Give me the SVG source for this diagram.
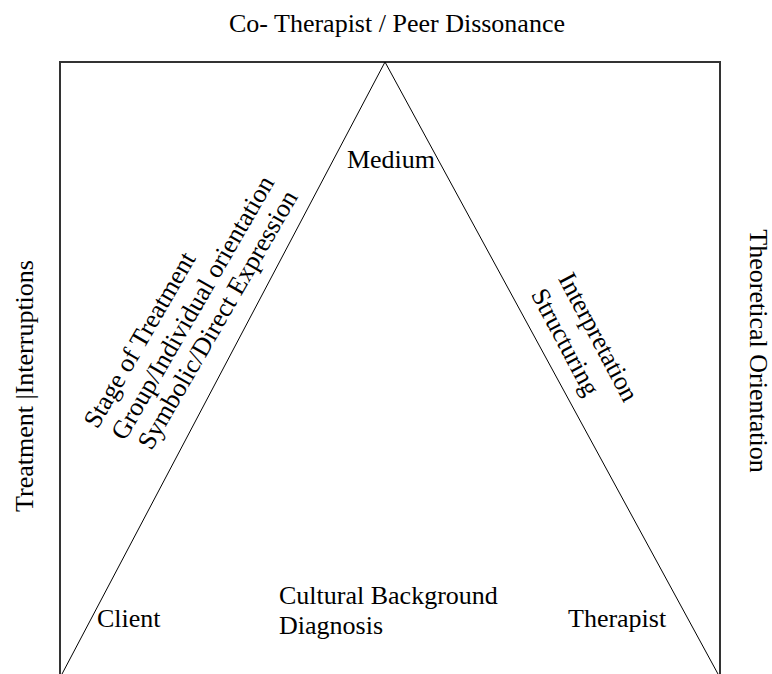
<svg xmlns="http://www.w3.org/2000/svg" width="772" height="674" viewBox="0 0 772 674">
<style>
text{font-family:"Liberation Serif","Times New Roman",serif;font-size:26px;fill:#000}
.frame{fill:none;stroke:#333;stroke-width:2}
.edge{fill:none;stroke:#000;stroke-width:1}
</style>
<rect width="772" height="674" fill="#fff"/>
<g id="title"><text x="397" y="32" text-anchor="middle">Co- Therapist / Peer Dissonance</text></g>
<g id="frame"><path class="frame" d="M60,674 V62 H720 V674"/></g>
<g id="connectors">
<path class="edge" d="M62,674 L385,62 L718,674"/>
</g>
<g id="side-left"><text transform="translate(33,386) rotate(-90)" text-anchor="middle" font-size="27">Treatment |Interruptions</text></g>
<g id="side-right"><text transform="translate(750,351) rotate(90)" text-anchor="middle" font-size="25">Theoretical Orientation</text></g>
<g id="medium"><text x="391" y="168" text-anchor="middle">Medium</text></g>
<g id="left-edge-labels">
<text transform="translate(147,344) rotate(-60)" text-anchor="middle">Stage of Treatment</text>
<text transform="translate(200,312) rotate(-60)" text-anchor="middle">Group/Individual orientation</text>
<text transform="translate(225,324) rotate(-60)" text-anchor="middle">Symbolic/Direct Expression</text>
</g>
<g id="right-edge-labels">
<text transform="translate(591,341) rotate(62)" text-anchor="middle">Interpretation</text>
<text transform="translate(558,346) rotate(62)" text-anchor="middle">Structuring</text>
</g>
<g id="client"><text x="97" y="627">Client</text></g>
<g id="base"><text x="279" y="604">Cultural Background</text><text x="279" y="634">Diagnosis</text></g>
<g id="therapist"><text x="568" y="627">Therapist</text></g>
</svg>
